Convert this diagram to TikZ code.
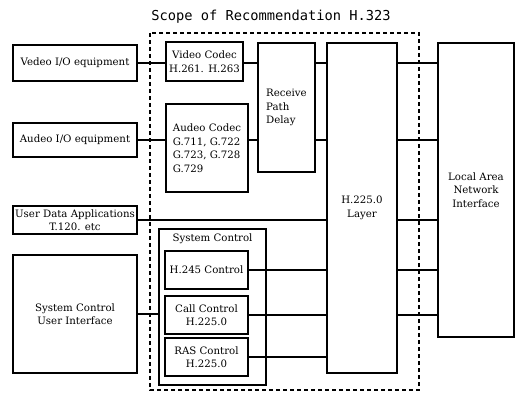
\documentclass[tikz,border=0pt]{standalone}
\usepackage{fontspec}
\setmainfont{DejaVu Serif}
\newfontfamily\scopefont{DejaVu Sans Mono}
\usepackage{tikz}
\usetikzlibrary{positioning}
\tikzstyle{unit} = [draw, line width=2pt, align=center, inner sep=2pt,
  font=\fontsize{10.2}{13.5}\selectfont]
\tikzstyle{lbl} = [inner sep=2pt, font=\fontsize{10.2}{13.5}\selectfont]
\tikzstyle{link} = [line width=2pt]
\tikzstyle{scope} = [line width=2pt, dash pattern=on 4pt off 3pt]

\begin{document}
\begin{tikzpicture}[x=1pt, y=-1pt]
\useasboundingbox (0,0) rectangle (515,393);

% Title and scope
\node[font=\scopefont\fontsize{13.7}{16}\selectfont] (title) at (271,17) {Scope of Recommendation H.323};
\draw[scope] (150,33) rectangle (419,390);

% Outside equipment
\node[unit, minimum width=124pt, minimum height=36pt] (vio) at (75,63) {Vedeo I/O equipment};
\node[unit, minimum width=124pt, minimum height=34pt] (aio) at (75,140) {Audeo I/O equipment};
\node[unit, minimum width=124pt, minimum height=28pt] (uda) at (75,220) {User Data Applications\\T.120. etc};
\node[unit, minimum width=124pt, minimum height=118pt] (scui) at (75,314) {System Control\\User Interface};

% Codecs and delay
\node[unit, minimum width=77pt, minimum height=39pt] (vcodec) at (204.5,61.5) {Video Codec\\H.261. H.263};
\node[unit, align=left, minimum width=82pt, minimum height=88pt] (acodec) at (207,148) {Audeo Codec\\G.711, G.722\\G.723, G.728\\G.729};
\node[unit, align=left, minimum width=57pt, minimum height=129pt] (rpd) at (286.5,107.5) {Receive\\Path\\Delay};

% System control
\node[unit, minimum width=107pt, minimum height=156pt] (sysctl) at (212.5,307) {};
\node[lbl, below=4pt of sysctl.north] (sysctltxt) {System Control};
\node[unit, minimum width=83pt, minimum height=38pt] (h245) at (206.5,270) {H.245 Control};
\node[unit, minimum width=83pt, minimum height=38pt] (callc) at (206.5,315) {Call Control\\H.225.0};
\node[unit, minimum width=83pt, minimum height=38pt] (rasc) at (206.5,357) {RAS Control\\H.225.0};

% Layer and network
\node[unit, minimum width=70pt, minimum height=330pt] (h225) at (362,208) {H.225.0\\Layer};
\node[unit, minimum width=76pt, minimum height=294pt] (lan) at (476,190) {Local Area\\Network\\Interface};

% Connections
\draw[link] (vio.east) -- (vio.east -| vcodec.west);
\draw[link] (vio.east -| vcodec.east) -- (vio.east -| rpd.west);
\draw[link] (aio.east) -- (aio.east -| acodec.west);
\draw[link] (aio.east -| acodec.east) -- (aio.east -| rpd.west);
\foreach \n in {vio,aio}
  \draw[link] (\n.east -| rpd.east) -- (\n.east -| h225.west);
\draw[link] (uda.east) -- (uda.east -| h225.west);
\draw[link] (scui.east) -- (scui.east -| sysctl.west);
\foreach \n in {h245,callc,rasc}
  \draw[link] (\n.east) -- (\n.east -| h225.west);
\foreach \n in {vio,aio,uda,h245,callc}
  \draw[link] (\n.east -| h225.east) -- (\n.east -| lan.west);
\end{tikzpicture}
\end{document}
